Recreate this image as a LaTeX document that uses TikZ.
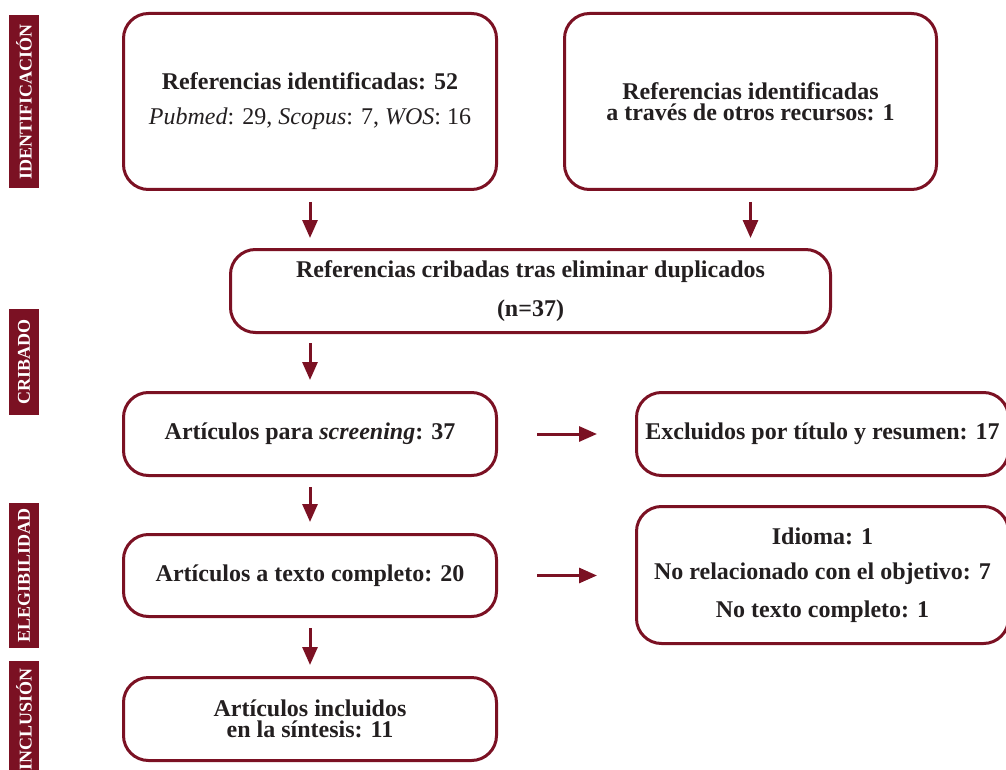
\documentclass[tikz,border=0pt]{standalone}
\usepackage{fontspec}
\setmainfont{Liberation Serif}
\usetikzlibrary{arrows.meta}
\definecolor{vino}{HTML}{7B1123}
\definecolor{tinta}{HTML}{231F20}

\begin{document}
\begin{tikzpicture}[x=1pt, y=-1pt,
  caja/.style={draw=vino, line width=3pt, rounded corners=25pt, align=center,
    text=tinta, inner sep=0pt, font=\fontsize{24}{21}\selectfont\bfseries},
  flecha/.style={draw=vino, line width=3pt, -{Triangle[width=15pt,length=18pt]}},
  etapa/.style={fill=vino, text=white, rotate=90, minimum height=30pt, inner sep=0pt,
    font=\fontsize{18}{18}\selectfont\bfseries}]
\useasboundingbox (0,0) rectangle (1006,770);

\foreach \y/\h/\nombre/\txt in {101.5/173pt/etIdent/IDENTIFICACIÓN, 362/106pt/etCriba/CRIBADO,
    575.5/145pt/etEleg/ELEGIBILIDAD, 719/116pt/etIncl/INCLUSIÓN}
  \node[etapa, minimum width=\h] (\nombre) at (24,\y) {\txt};

\node[caja, minimum width=373pt, minimum height=176pt] (refBases) at (310,101.5)
  {Referencias identificadas: 52\\[14pt]{\mdseries\textit{Pubmed}: 29, \textit{Scopus}: 7, \textit{WOS}: 16}};
\node[caja, minimum width=372pt, minimum height=176pt] (refOtros) at (750.5,101.5)
  {Referencias identificadas\\a través de otros recursos: 1};
\node[caja, minimum width=600pt, minimum height=83pt] (cribadas) at (530.5,291)
  {Referencias cribadas tras eliminar duplicados\\[17pt](n=37)};
\node[caja, minimum width=373pt, minimum height=83pt] (screening) at (310,434)
  {Artículos para \textit{screening}: 37};
\node[caja, minimum width=372pt, minimum height=83pt] (exclTitulo) at (822.5,434)
  {Excluidos por título y resumen: 17};
\node[caja, minimum width=373pt, minimum height=82pt] (textoComp) at (310,575.5)
  {Artículos a texto completo: 20};
\node[caja, minimum width=372pt, minimum height=137pt] (exclTexto) at (822.5,575)
  {Idioma: 1\\[14.5pt]No relacionado con el objetivo: 7\\[14.5pt]No texto completo: 1};
\node[caja, minimum width=373pt, minimum height=83pt] (incluidos) at (310,719)
  {Artículos incluidos\\en la síntesis: 11};

\draw[flecha, shorten <=11pt, shorten >=10pt] (refBases.south) -- (refBases.south |- cribadas.north);
\draw[flecha, shorten <=11pt, shorten >=10pt] (refOtros.south) -- (refOtros.south |- cribadas.north);
\draw[flecha, shorten <=9pt, shorten >=11pt] (screening.north |- cribadas.south) -- (screening.north);
\draw[flecha, shorten <=10pt, shorten >=11pt] (screening.south) -- (textoComp.north);
\draw[flecha, shorten <=10pt, shorten >=11pt] (textoComp.south) -- (incluidos.north);
\draw[flecha, shorten <=39pt, shorten >=38pt] (screening.east) -- (exclTitulo.west);
\draw[flecha, shorten <=39pt, shorten >=38pt] (textoComp.east) -- (textoComp.east -| exclTexto.west);

\end{tikzpicture}
\end{document}
